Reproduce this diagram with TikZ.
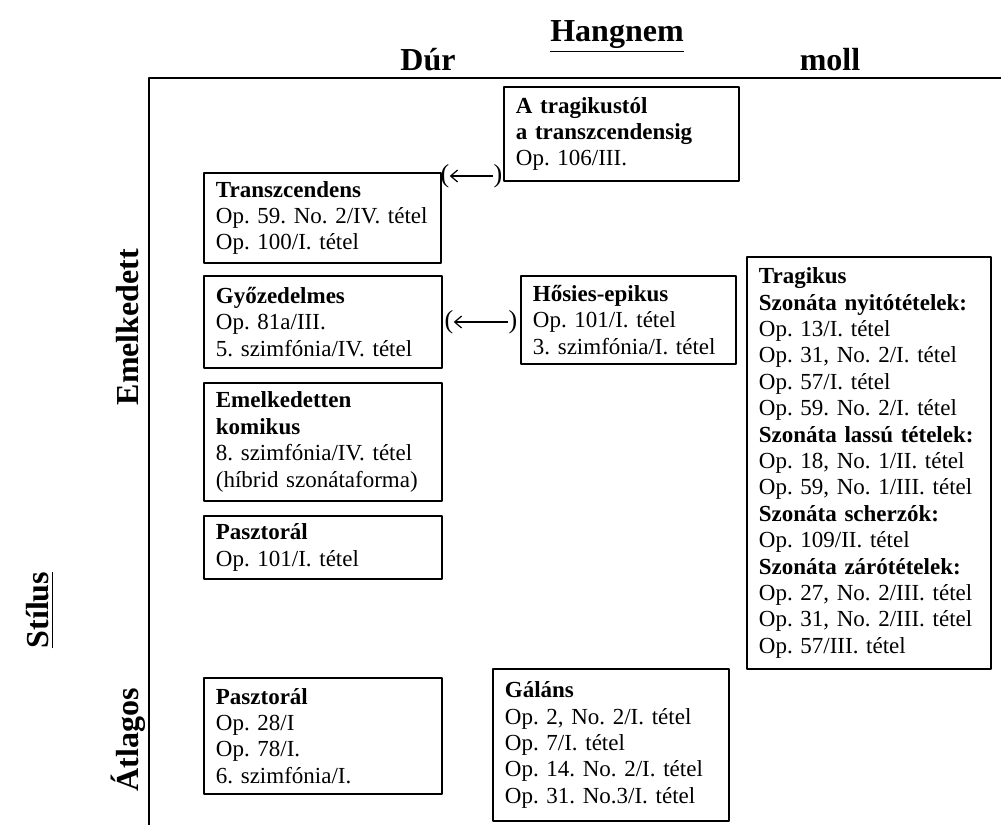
\documentclass[tikz,border=0pt]{standalone}
\usepackage{fontspec}
\setmainfont{Liberation Serif}
\usetikzlibrary{arrows.meta}
\frenchspacing
\newcommand{\boxfont}{\fontsize{11.5}{13.2}\selectfont}
\newcommand{\headfont}{\fontsize{16}{18}\selectfont\bfseries}

\begin{document}
\begin{tikzpicture}[x=0.5pt,y=-0.5pt,line join=round,>={Straight Barb[length=3.5pt,width=6pt]}]
\tikzset{every node/.style={inner sep=0pt},
  box/.style={draw,line width=0.9pt,anchor=north west,align=left,inner xsep=6pt,inner ysep=4pt,font=\boxfont},
  head/.style={font=\headfont},
  paren/.style={font=\fontsize{13}{13}\selectfont},
  opt/.style={<-,line width=0.6pt}}
\useasboundingbox (0,0) rectangle (1001,825);
% tengely
\draw[line width=1.4pt] (1001,78) -- (149,78) -- (149,825);
\node[head] (hangnem) at (617,37) {\underline{Hangnem}};
\node[head] (dur) at (428,60) {Dúr};
\node[head] (moll) at (830,60) {moll};
\node[head,rotate=90] (stilus) at (40,610) {\underline{Stílus}};
\node[head,rotate=90] (emelk) at (128,327) {Emelkedett};
\node[head,rotate=90] (atlag) at (128,740) {Átlagos};
% dobozok
\node[box,text width=105.5pt,minimum height=47pt] (trag) at (503,86) {\textbf{A tragikustól}\\\textbf{a transzcendensig}\\Op. 106/III.};
\node[box,text width=106.5pt,minimum height=45pt] (transz) at (203,172) {\textbf{Transzcendens}\\Op. 59. No. 2/IV. tétel\\Op. 100/I. tétel};
\node[box,text width=107pt,minimum height=46pt] (gyoz) at (203,275) {\textbf{Győzedelmes}\\Op. 81a/III.\\5. szimfónia/IV. tétel};
\node[box,text width=107pt,minimum height=59pt] (komikus) at (203,382) {\textbf{Emelkedetten}\\\textbf{komikus}\\8. szimfónia/IV. tétel\\(híbrid szonátaforma)};
\node[box,text width=107pt,minimum height=29pt] (pasz1) at (203,515) {\textbf{Pasztorál}\\Op. 101/I. tétel};
\node[box,text width=95.5pt,minimum height=44pt] (hosies) at (520,275) {\textbf{Hősies-epikus}\\Op. 101/I. tétel\\3. szimfónia/I. tétel};
\node[box,text width=110pt,minimum height=206pt] (tragikus) at (746,256) {\textbf{Tragikus}\\\textbf{Szonáta nyitótételek:}\\Op. 13/I. tétel\\Op. 31, No. 2/I. tétel\\Op. 57/I. tétel\\Op. 59. No. 2/I. tétel\\\textbf{Szonáta lassú tételek:}\\Op. 18, No. 1/II. tétel\\Op. 59, No. 1/III. tétel\\\textbf{Szonáta scherzók:}\\Op. 109/II. tétel\\\textbf{Szonáta zárótételek:}\\Op. 27, No. 2/III. tétel\\Op. 31, No. 2/III. tétel\\Op. 57/III. tétel};
\node[box,text width=107pt,minimum height=58pt] (pasz2) at (203,677) {\textbf{Pasztorál}\\Op. 28/I\\Op. 78/I.\\6. szimfónia/I.};
\node[box,text width=106pt,minimum height=76pt] (galans) at (492,668) {\textbf{Gáláns}\\Op. 2, No. 2/I. tétel\\Op. 7/I. tétel\\Op. 14. No. 2/I. tétel\\Op. 31. No.3/I. tétel};
% nyilak
\node[paren] (lp1) at (445,176) {(};
\node[paren] (rp1) at (498,176) {)};
\draw[opt] (lp1) -- (rp1);
\node[paren] (lp2) at (449,322) {(};
\node[paren] (rp2) at (513,322) {)};
\draw[opt] (lp2) -- (rp2);
\end{tikzpicture}
\end{document}
